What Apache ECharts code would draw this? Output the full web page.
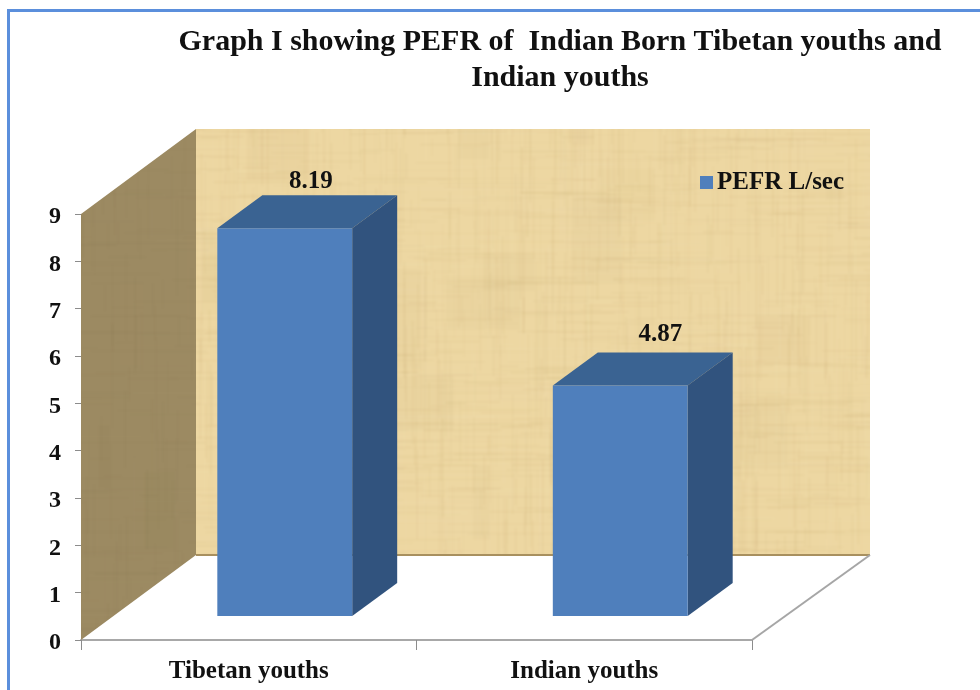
<!DOCTYPE html>
<html>
<head>
<meta charset="utf-8">
<title>PEFR chart</title>
<script src="https://cdn.jsdelivr.net/npm/echarts@6/dist/echarts.min.js"></script>
<style>
  html, body { margin: 0; padding: 0; background: #fff; }
  #chart { width: 980px; height: 690px; }
</style>
</head>
<body>
<div id="chart"></div>
<script>
const categories = ["Tibetan youths", "Indian youths"];
const pefrValues = [8.19, 4.87];
const seriesName = "PEFR L/sec";
const yTicks = [0, 1, 2, 3, 4, 5, 6, 7, 8, 9];

const FONT = '"Liberation Serif", serif';

// fake 3d: how far the back wall sits from the axis plane, and the bars from the axis
const WALL_DX = 115;
const WALL_DY = 85;
const BAR_DX = 45;
const BAR_DY = 33;
const BAR_SHIFT_X = 36;
const BAR_SHIFT_Y = 24;
const BAR_WIDTH = 0.402; // share of the category band
const LABEL_SHIFT = [[26, -14], [40, -18]]; // from the bar's front centre and back top edge

function hash(i) {
  const s = Math.sin(i * 12.9898) * 43758.5453;
  return s - Math.floor(s);
}

// papyrus-like fill for the walls, fixed pattern of fibres
function makeTexture(base, dark, light, count, maxAlpha) {
  const raw = document.createElement("canvas");
  raw.width = 980;
  raw.height = 690;
  const ctx = raw.getContext("2d");
  ctx.fillStyle = base;
  ctx.fillRect(0, 0, 980, 690);
  for (let i = 0; i < 70; i++) {
    ctx.globalAlpha = 0.02 + hash(i + 3000) * 0.03;
    ctx.fillStyle = i % 2 ? dark : light;
    ctx.fillRect(hash(i + 3100) * 980, hash(i + 3200) * 690, 10 + hash(i + 3300) * 70, 10 + hash(i + 3400) * 90);
  }
  for (let i = 0; i < count; i++) {
    ctx.globalAlpha = 0.02 + hash(i + 1000) * maxAlpha;
    ctx.fillStyle = i % 3 === 0 ? light : dark;
    const a = hash(i) * 980;
    const b = hash(i + 5000) * 690;
    const len = 15 + hash(i + 7000) * 110;
    if (i % 2) ctx.fillRect(a, b, 1, len);
    else ctx.fillRect(a, b, len, 1);
  }
  const out = document.createElement("canvas");
  out.width = 980;
  out.height = 690;
  const octx = out.getContext("2d");
  octx.filter = "blur(1px)";
  octx.drawImage(raw, 0, 0);
  return out;
}

const backTexture = makeTexture("#edd7a2", "#b8965a", "#f8ecc8", 4800, 0.12);
const sideTexture = makeTexture("#9c8a62", "#7b6a46", "#b3a27c", 2600, 0.1);

function renderWalls(params, api) {
  const cs = params.coordSys;
  const left = cs.x;
  const right = cs.x + cs.width;
  const top = cs.y;
  const bottom = cs.y + cs.height;
  return {
    type: "group",
    children: [
      {
        type: "polygon",
        shape: { points: [[left + WALL_DX, top - WALL_DY], [right + WALL_DX + 3, top - WALL_DY], [right + WALL_DX + 3, bottom - WALL_DY], [left + WALL_DX, bottom - WALL_DY]] },
        style: { fill: { image: backTexture, repeat: "no-repeat" } },
      },
      {
        type: "polygon",
        shape: { points: [[left, top], [left + WALL_DX, top - WALL_DY], [left + WALL_DX, bottom - WALL_DY], [left, bottom]] },
        style: { fill: { image: sideTexture, repeat: "no-repeat" } },
      },
      {
        type: "line",
        shape: { x1: left + WALL_DX, y1: bottom - WALL_DY, x2: right + WALL_DX + 3, y2: bottom - WALL_DY },
        style: { stroke: "#a8905f", lineWidth: 2 },
      },
      {
        type: "line",
        shape: { x1: right, y1: bottom, x2: right + WALL_DX + 3, y2: bottom - WALL_DY },
        style: { stroke: "#a6a6a6", lineWidth: 2 },
      },
    ],
  };
}

function renderBar(params, api) {
  const top = api.coord([api.value(0), api.value(1)]);
  const base = api.coord([api.value(0), 0]);
  const w = api.size([1, 0])[0] * BAR_WIDTH;
  const x0 = top[0] + BAR_SHIFT_X - w / 2;
  const x1 = x0 + w;
  const y0 = top[1] - BAR_SHIFT_Y;
  const y1 = base[1] - BAR_SHIFT_Y;
  const labelShift = LABEL_SHIFT[params.dataIndex];
  return {
    type: "group",
    children: [
      {
        type: "polygon",
        shape: { points: [[x0, y0], [x0 + BAR_DX, y0 - BAR_DY], [x1 + BAR_DX, y0 - BAR_DY], [x1, y0]] },
        style: { fill: "#3a6392" },
      },
      {
        type: "polygon",
        shape: { points: [[x1, y0], [x1 + BAR_DX, y0 - BAR_DY], [x1 + BAR_DX, y1 - BAR_DY], [x1, y1]] },
        style: { fill: "#31537e" },
      },
      {
        type: "rect",
        shape: { x: x0, y: y0, width: w, height: y1 - y0 },
        style: { fill: "#4f7fbc" },
      },
      {
        type: "text",
        style: {
          text: String(api.value(1)),
          x: x0 + w / 2 + labelShift[0],
          y: y0 - BAR_DY + labelShift[1],
          align: "center",
          verticalAlign: "middle",
          font: "bold 25px " + FONT,
          fill: "#111",
        },
      },
    ],
  };
}

const chart = echarts.init(document.getElementById("chart"), null, { renderer: "canvas" });

chart.setOption({
  animation: false,
  backgroundColor: "#fff",
  title: {
    text: "Graph I showing PEFR of  Indian Born Tibetan youths and\nIndian youths",
    left: 555,
    top: 19,
    textAlign: "center",
    textStyle: {
      fontFamily: FONT,
      fontWeight: "bold",
      fontSize: 30,
      lineHeight: 36,
      color: "#111",
    },
  },
  legend: {
    data: [seriesName],
    left: 695,
    top: 165,
    icon: "rect",
    itemWidth: 13,
    itemHeight: 13,
    itemGap: 6,
    selectedMode: false,
    textStyle: { fontFamily: FONT, fontWeight: "bold", fontSize: 25, color: "#111", padding: [0, 0, 0, -1] },
  },
  grid: { left: 81, right: 228, top: 214, height: 426 },
  xAxis: {
    type: "category",
    data: categories,
    axisLine: { lineStyle: { color: "#a8a8a8", width: 2 } },
    axisTick: { show: true, length: 10, lineStyle: { color: "#8c8c8c" } },
    axisLabel: { margin: 19, fontFamily: FONT, fontWeight: "bold", fontSize: 25, color: "#111" },
  },
  yAxis: {
    type: "value",
    min: yTicks[0],
    max: yTicks[yTicks.length - 1],
    interval: 1,
    axisLine: { show: false },
    axisTick: { show: true, length: 6, lineStyle: { color: "#8c8c8c" } },
    axisLabel: { margin: 20, verticalAlign: "top", lineHeight: 6, fontFamily: FONT, fontWeight: "bold", fontSize: 24, color: "#111" },
    splitLine: { show: false },
  },
  graphic: [
    {
      type: "polyline",
      shape: { points: [[8.5, 690], [8.5, 10.5], [980, 10.5]] },
      style: { stroke: "#5b8fdc", lineWidth: 3, fill: null },
    },
  ],
  series: [
    {
      type: "custom",
      name: "walls",
      silent: true,
      renderItem: renderWalls,
      data: [0],
      encode: { x: 0 },
      z: 1,
    },
    {
      type: "custom",
      name: seriesName,
      silent: true,
      renderItem: renderBar,
      itemStyle: { color: "#4f7fbc" },
      data: categories.map((c, i) => [i, pefrValues[i]]),
      encode: { x: 0, y: 1 },
      z: 3,
    },
  ],
});
</script>
</body>
</html>
